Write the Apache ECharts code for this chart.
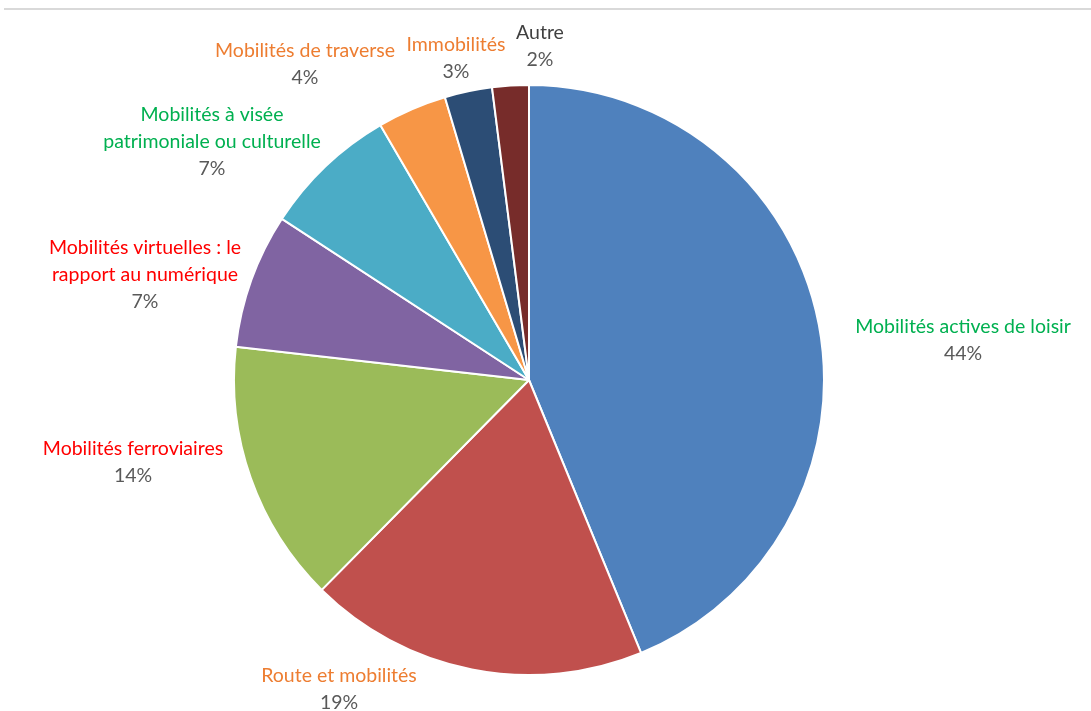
<!DOCTYPE html>
<html>
<head>
<meta charset="utf-8">
<script src="https://cdn.jsdelivr.net/npm/echarts@6/dist/echarts.min.js"></script>
<style>
  html, body { margin: 0; padding: 0; background: #fff; }
  #chart { width: 1091px; height: 711px; }
</style>
</head>
<body>
<div id="chart"></div>
<script>
// slices, clockwise from the top
var names = [
  'Mobilités actives de loisir',
  'Route et mobilités',
  'Mobilités ferroviaires',
  'Mobilités virtuelles : le\nrapport au numérique',
  'Mobilités à visée\npatrimoniale ou culturelle',
  'Mobilités de traverse',
  'Immobilités',
  'Autre'
];
var values = [43.8, 18.6, 14.4, 7.4, 7.4, 3.8, 2.6, 2.0];

var sliceColors = ['#4F81BD', '#C0504D', '#9BBB59', '#8064A2', '#4BACC6', '#F79646', '#2C4D75', '#772C2A'];
// label text colour key per slice (g green, o orange, r red, k grey)
var nameStyle = ['g', 'o', 'r', 'r', 'g', 'o', 'o', 'k'];
// label block centres as placed in the original
var labelPos = [[963, 340], [339, 689], [133, 462], [145, 275], [212, 142], [305, 64], [456, 58], [540, 46]];

var myChart = echarts.init(document.getElementById('chart'));

var font = 'Lato, "Liberation Sans", sans-serif';
var fs = 19.5;
var lh = 27;
var option = {
  animation: false,
  graphic: [{
    type: 'rect',
    shape: { x: 4, y: 8, width: 1087, height: 2 },
    style: { fill: '#d9d9d9' },
    silent: true
  }],
  series: [{
    type: 'pie',
    center: [529, 380],
    radius: 295,
    startAngle: 90,
    clockwise: true,
    avoidLabelOverlap: false,
    itemStyle: { borderColor: '#fff', borderWidth: 2 },
    label: {
      show: true,
      position: 'outside',
      fontFamily: font,
      fontSize: fs,
      lineHeight: lh,
      align: 'center',
      formatter: function (p) {
        var k = nameStyle[p.dataIndex];
        var lines = p.name.split('\n').map(function (s) { return '{' + k + '|' + s + '}'; });
        lines.push('{p|' + Math.round(p.percent) + '%}');
        return lines.join('\n');
      },
      rich: {
        g: { color: '#00B050', fontFamily: font, fontSize: fs, lineHeight: lh, align: 'center' },
        o: { color: '#ED7D31', fontFamily: font, fontSize: fs, lineHeight: lh, align: 'center' },
        r: { color: '#FF0000', fontFamily: font, fontSize: fs, lineHeight: lh, align: 'center' },
        k: { color: '#404040', fontFamily: font, fontSize: fs, lineHeight: lh, align: 'center' },
        p: { color: '#595959', fontFamily: font, fontSize: fs, lineHeight: lh, align: 'center' }
      }
    },
    labelLine: { show: false },
    labelLayout: function (params) {
      var pos = labelPos[params.dataIndex];
      return { x: pos[0], y: pos[1], align: 'center', verticalAlign: 'middle' };
    },
    data: names.map(function (n, i) {
      return { name: n, value: values[i], itemStyle: { color: sliceColors[i] } };
    })
  }]
};

myChart.setOption(option);
</script>
</body>
</html>
